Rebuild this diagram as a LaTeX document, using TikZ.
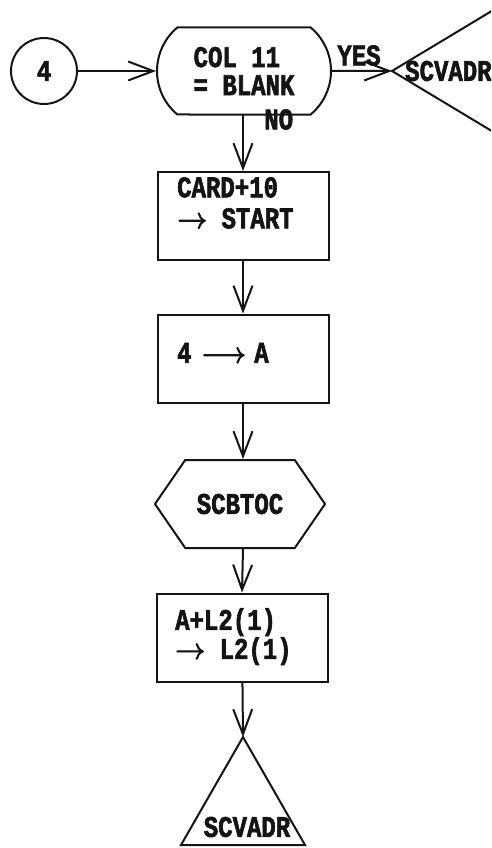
\documentclass[tikz,border=0pt]{standalone}
\usepackage{fontspec}
\usetikzlibrary{arrows.meta,shapes.misc,shapes.symbols}
\newfontfamily\flowfont{Liberation Mono}[FakeStretch=0.8,BoldFeatures={FakeBold=2}]
\newfontfamily\arrowfont{Latin Modern Math}[FakeBold=3]
\definecolor{flowink}{HTML}{141414}

\begin{document}
\begin{tikzpicture}[
    x=1pt,y=-1pt,
    flow/.style={-{Straight Barb[length=25pt,width=19pt]},line width=2pt,draw=flowink},
    outline/.style={draw=flowink,line width=2pt},
    chart/.style={font=\flowfont\bfseries\fontsize{30}{31}\selectfont,text=flowink},
    stepbox/.style={outline,rectangle,minimum width=171pt,minimum height=88pt},
    boxtext/.style={chart,align=left,inner sep=0pt}
  ]
  \useasboundingbox (0,0) rectangle (491,848);
  \clip (0,0) rectangle (491,848);

  \node[outline,circle,minimum size=66pt,chart] (entry) at (44,71) {4};
  \node[outline,rounded rectangle,rounded rectangle arc length=100,
    minimum width=174pt,minimum height=87pt,chart,align=left,inner sep=0pt]
    (blank) at (244,71) {COL 11\\[-3pt]= BLANK};

  \coordinate (yestip) at (392,71);
  \draw[outline] (520,-6) -- (yestip) -- (520,148);
  \node[chart,anchor=west,inner sep=0pt] at (405,71) {SCVADR};

  \node[stepbox] (card) at (243,216) {};
  \node[boxtext,anchor=north west] at (177,177)
    {CARD+10\\{\arrowfont →} START};

  \node[stepbox] (four) at (243,358.5) {};
  \node[boxtext,anchor=west] at (177,353)
    {4\hspace{-4pt} {\arrowfont ⟶}\hspace{-6pt} A};

  \node[outline,signal,signal to=west and east,signal pointer angle=111,
    minimum width=170pt,minimum height=88pt,chart,inner sep=0pt]
    (scbtoc) at (240,504) {SCBTOC};

  \node[stepbox] (addl) at (242,637.5) {};
  \node[boxtext,anchor=north west] at (175,608)
    {A+L2(1)\\[-2pt]{\arrowfont →} L2(1)};

  \coordinate (exittip) at (243,737);
  \draw[outline] (exittip) -- (181,845) -- (305,845) -- cycle;
  \node[chart,inner sep=0pt] at (247,827) {SCVADR};

  \draw[flow] (entry) -- (blank);
  \draw[flow] (blank) -- (yestip) node[chart,pos=.45,above=1pt] {YES};
  \draw[flow] (blank.south -| card.north) -- (card.north)
    node[chart,pos=0,anchor=west,xshift=17pt,yshift=-4pt] {NO};
  \draw[flow] (card) -- (four);
  \draw[flow] (four.south) -- (four.south |- scbtoc.north);
  \draw[flow] (four.south |- scbtoc.south) -- (addl.north);
  \draw[flow] (addl) -- (exittip);
\end{tikzpicture}
\end{document}
